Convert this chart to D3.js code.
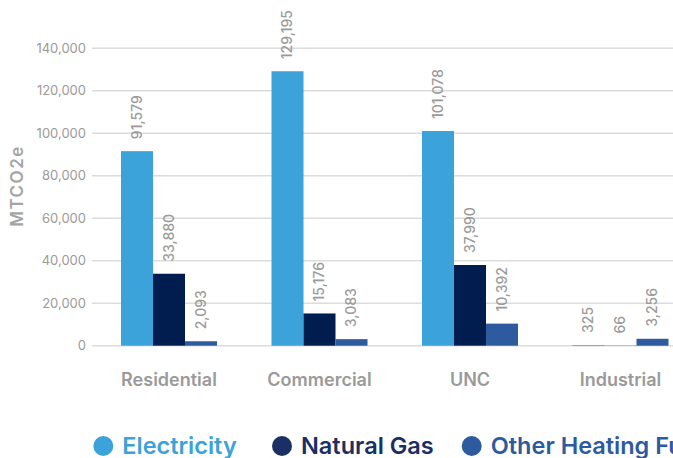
<!DOCTYPE html>
<html><head><meta charset="utf-8">
<script src="https://cdn.jsdelivr.net/npm/d3@7"></script>
<style>html,body{margin:0;padding:0;background:#fff;overflow:hidden}svg{display:block;font-family:Inter,"Open Sans",sans-serif}</style>
</head><body>
<svg id="c" width="673" height="458"></svg>
<script>
const categories = ["Residential", "Commercial", "UNC", "Industrial"];
const seriesNames = ["Electricity", "Natural Gas", "Other Heating Fuels"];
const electricity = [91579, 129195, 101078, 325];
const naturalGas = [33880, 15176, 37990, 66];
const otherHeating = [2093, 3083, 10392, 3256];
const yTicks = [0, 20000, 40000, 60000, 80000, 100000, 120000, 140000];
const colors = ["#3ca2da", "#011c4f", "#2e5a9f"];
const legendColors = ["#3ca2da", "#1a2f63", "#2e5a9f"];

const seriesValues = [electricity, naturalGas, otherHeating];
const svg = d3.select("#c");
const fmt = d3.format(",");

const y = d3.scaleLinear().domain([0, 140000]).range([345.7, 48.3]);
const x0 = d3.scaleBand().domain(categories).range([121, 668.5]).paddingInner(54.5/150.5).paddingOuter(0);
const x1 = d3.scaleBand().domain(seriesNames).range([0, x0.bandwidth()]);

// gridlines
svg.append("g").selectAll("line").data(yTicks).join("line")
  .attr("x1", 92).attr("x2", 673)
  .attr("y1", d => y(d)).attr("y2", d => y(d))
  .attr("stroke", "#dcdcdc").attr("stroke-width", 1.5);

// tick labels
svg.append("g").selectAll("text").data(yTicks).join("text")
  .attr("x", 86).attr("y", d => y(d)).attr("dy", "0.35em")
  .attr("text-anchor", "end").attr("fill", "#9a9a9a")
  .style("font-size", "13px").text(d => fmt(d));

// y title
svg.append("text")
  .attr("transform", "translate(17,186) rotate(-90)")
  .attr("text-anchor", "middle").attr("dy", "0.35em")
  .attr("fill", "#a4a4a4").style("font-size", "17px").style("font-weight", 600)
  .style("letter-spacing", "1.5px")
  .text("MTCO2e");

// bars
const rows = [];
categories.forEach((c, i) => seriesNames.forEach((s, j) => rows.push({c, s, j, v: seriesValues[j][i]})));
svg.append("g").selectAll("rect").data(rows).join("rect")
  .attr("x", d => x0(d.c) + x1(d.s))
  .attr("width", x1.bandwidth())
  .attr("y", d => y(d.v))
  .attr("height", d => y(0) - y(d.v))
  .attr("fill", d => colors[d.j]);

// value labels
svg.append("g").selectAll("text").data(rows).join("text")
  .attr("transform", d => `translate(${x0(d.c) + x1(d.s) + x1.bandwidth()/2},${y(d.v) - 12}) rotate(-90)`)
  .attr("dy", "0.35em").attr("text-anchor", "start")
  .attr("fill", "#9a9a9a").style("font-size", "14px").style("font-weight", 500)
  .text(d => fmt(d.v));

// category labels
svg.append("g").selectAll("text").data(categories).join("text")
  .attr("x", d => x0(d) + x0.bandwidth()/2).attr("y", 386)
  .attr("text-anchor", "middle").attr("fill", "#9a9a9a")
  .style("font-size", "18px").style("font-weight", 600)
  .text(d => d);

// legend
const legendX = [103.3, 282, 471.7];
const lg = svg.append("g").selectAll("g").data(seriesNames).join("g")
  .attr("transform", (d, i) => `translate(${legendX[i]},446)`);
lg.append("circle").attr("r", 10).attr("fill", (d, i) => legendColors[i]);
lg.append("text").attr("x", 19).attr("dy", "0.35em")
  .attr("fill", (d, i) => legendColors[i])
  .style("font-size", "23.5px").style("font-weight", 600)
  .text(d => d);
</script>
</body></html>
